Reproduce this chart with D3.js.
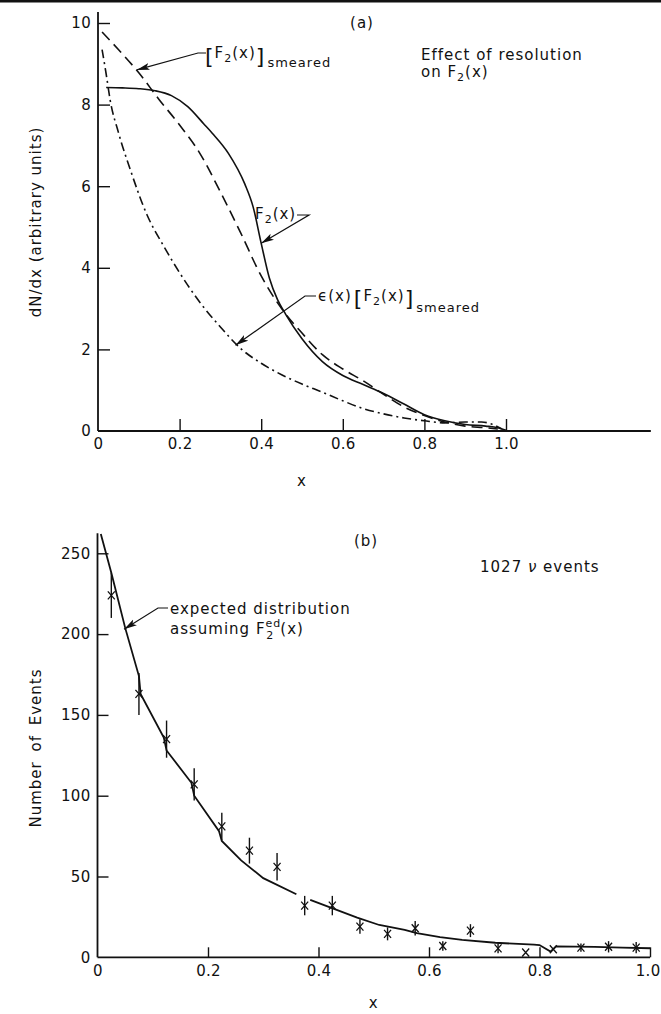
<!DOCTYPE html>
<html>
<head>
<meta charset="utf-8">
<script src="https://cdn.jsdelivr.net/npm/d3@7"></script>
<style>
  body { margin: 0; background: #fff; }
  svg text { font-family: "DejaVu Sans", sans-serif; fill: #111; letter-spacing: 1px; }
</style>
</head>
<body>
<svg id="fig" width="661" height="1014"></svg>
<script>
// ---------- panel (a): F2(x) and its smeared versions ----------
const f2X    = [0.02, 0.06, 0.10, 0.14, 0.18, 0.22, 0.26, 0.28, 0.32, 0.36, 0.38, 0.40, 0.42, 0.44, 0.46, 0.50, 0.55, 0.60, 0.65, 0.70, 0.75, 0.80, 0.85, 0.90, 0.95, 0.98, 1.00];
const f2Y    = [8.42, 8.41, 8.39, 8.34, 8.22, 7.95, 7.52, 7.30, 6.80, 6.05, 5.50, 4.60, 3.75, 3.22, 2.86, 2.26, 1.70, 1.36, 1.14, 0.92, 0.66, 0.40, 0.25, 0.16, 0.12, 0.08, 0.02];

const smearX = [0.01, 0.05, 0.10, 0.15, 0.20, 0.25, 0.30, 0.35, 0.40, 0.45, 0.50, 0.55, 0.60, 0.65, 0.70, 0.75, 0.80, 0.85, 0.90, 0.95, 0.98];
const smearY = [9.78, 9.35, 8.78, 8.12, 7.50, 6.80, 5.86, 4.85, 3.80, 3.00, 2.40, 1.87, 1.52, 1.23, 0.90, 0.59, 0.38, 0.22, 0.12, 0.08, 0.05];

const effX   = [0.01, 0.02, 0.03, 0.05, 0.08, 0.12, 0.16, 0.20, 0.25, 0.30, 0.35, 0.40, 0.45, 0.50, 0.55, 0.60, 0.65, 0.70, 0.75, 0.80, 0.85, 0.90, 0.94, 0.97, 0.99];
const effY   = [9.35, 8.75, 8.10, 7.32, 6.38, 5.30, 4.55, 3.88, 3.15, 2.55, 2.02, 1.66, 1.38, 1.15, 0.95, 0.74, 0.55, 0.42, 0.32, 0.25, 0.20, 0.22, 0.22, 0.15, 0.05];

const aTicksX      = [0, 0.2, 0.4, 0.6, 0.8, 1.0];
const aTickLabelsX = ["0", "0.2", "0.4", "0.6", "0.8", "1.0"];
const aTicksY      = [0, 2, 4, 6, 8, 10];

// ---------- panel (b): event counts per x bin ----------
const binX   = [0.025, 0.075, 0.125, 0.175, 0.225, 0.275, 0.325, 0.375, 0.425, 0.475, 0.525, 0.575, 0.625, 0.675, 0.725, 0.775, 0.825, 0.875, 0.925, 0.975];
const counts = [224, 163, 135, 107, 81, 66, 56, 32, 32, 19, 14.5, 18, 7, 16.5, 5.5, 3, 5, 6, 6.5, 6];
const errs   = [14, 13, 11.5, 10, 8.5, 8, 8.5, 6, 6, 4.5, 4, 4.5, 3, 4, 3, 0, 0, 2.5, 3.5, 3.5];

// expected distribution (short breaks at the bin boundaries)
const expX = [0.006, 0.025, 0.05, 0.075, 0.078, 0.12, 0.125, 0.17, 0.175, 0.22, 0.225, 0.26, 0.30, 0.36, null, 0.385, 0.47, 0.51, 0.556, 0.578, 0.62, 0.66, 0.72, 0.79, 0.80, 0.82, 0.83, 0.90, 0.95, 1.0];
const expY = [262, 238, 204, 174, 163, 136, 128, 108, 100, 78, 72, 60, 49, 39, null, 35.5, 24.5, 20, 17, 15, 12.5, 10.8, 9, 7.8, 7.6, 3.5, 6.8, 6.4, 6.0, 5.6];

const bTicksX      = [0, 0.2, 0.4, 0.6, 0.8, 1.0];
const bTickLabelsX = ["0", "0.2", "0.4", "0.6", "0.8", "1.0"];
const bTicksY      = [0, 50, 100, 150, 200, 250];

// ---------- drawing ----------
const svg = d3.select("#fig");
const ink = "#111";

// rule across the top of the page
svg.append("rect").attr("x", 0).attr("y", 0).attr("width", 661).attr("height", 2.5).attr("fill", ink);

// arrowhead
svg.append("defs").append("marker")
  .attr("id", "arrow").attr("markerUnits", "userSpaceOnUse")
  .attr("markerWidth", 14).attr("markerHeight", 8)
  .attr("refX", 13).attr("refY", 3.5).attr("orient", "auto")
  .append("path").attr("d", "M0,0 L13,3.5 L0,7 L3,3.5 Z").attr("fill", ink);

function styleAxis(g) {
  g.attr("font-size", null).attr("font-family", null);
  g.selectAll(".tick line").attr("stroke", ink).attr("stroke-width", 1.4);
  g.selectAll(".tick text").attr("font-size", 15).attr("fill", ink).style("letter-spacing", "0.3px");
  g.select(".domain").remove();
}

function richText(parent, x, y, parts, attrs) {
  const t = parent.append("text").attr("x", x).attr("y", y);
  if (attrs) Object.entries(attrs).forEach(([k, v]) => t.attr(k, v));
  parts.forEach(p => {
    const s = t.append("tspan").text(p.t).attr("font-size", p.size || 15);
    if (p.dy) s.attr("dy", p.dy);
    if (p.dx) s.attr("dx", p.dx);
    if (p.style) s.attr("font-style", p.style);
  });
  return t;
}

function leader(points) {
  svg.append("path")
    .attr("d", d3.line()(points))
    .attr("fill", "none").attr("stroke", ink).attr("stroke-width", 1.2)
    .attr("marker-end", "url(#arrow)");
}

// ===== panel (a) =====
const xa = d3.scaleLinear().domain([0, 1]).range([98, 506]);
const ya = d3.scaleLinear().domain([0, 10]).range([431, 23]);

const gaX = svg.append("g").attr("transform", `translate(0,${ya(0)})`)
  .call(d3.axisBottom(xa).tickValues(aTicksX).tickFormat((d, i) => aTickLabelsX[i])
    .tickSizeInner(-12).tickSizeOuter(0).tickPadding(7));
styleAxis(gaX);
gaX.selectAll(".tick").filter(d => d === 0).select("line").remove();
const gaY = svg.append("g").attr("transform", `translate(${xa(0)},0)`)
  .call(d3.axisLeft(ya).tickValues(aTicksY).tickSizeInner(-12).tickSizeOuter(0).tickPadding(7));
styleAxis(gaY);
gaY.selectAll(".tick").filter(d => d === 0).select("line").remove();

svg.append("line").attr("x1", xa(0)).attr("x2", xa(1.355)).attr("y1", ya(0)).attr("y2", ya(0))
  .attr("stroke", ink).attr("stroke-width", 1.8);
svg.append("line").attr("x1", xa(0)).attr("x2", xa(0)).attr("y1", ya(0)).attr("y2", ya(10.27))
  .attr("stroke", ink).attr("stroke-width", 1.8);

const lineA = d3.line().x(d => xa(d[0])).y(d => ya(d[1])).curve(d3.curveMonotoneX);
function curveA(xs, ys, dash) {
  svg.append("path").datum(xs.map((x, i) => [x, ys[i]]))
    .attr("d", lineA).attr("fill", "none").attr("stroke", ink).attr("stroke-width", 1.6)
    .attr("stroke-dasharray", dash);
}
curveA(f2X, f2Y, null);
curveA(smearX, smearY, "11,6");
curveA(effX, effY, "9,4,2,4");

// panel (a) labels
svg.append("text").attr("x", 362).attr("y", 28).attr("text-anchor", "middle").attr("font-size", 15).text("(a)");
svg.append("text").attr("x", 421).attr("y", 60).attr("font-size", 15).text("Effect of resolution");
richText(svg, 421, 77, [{ t: "on F" }, { t: "2", size: 11, dy: 4 }, { t: "(x)", dy: -4 }]);

richText(svg, 205, 64, [
  { t: "[", size: 22 }, { t: "F", dy: -6 }, { t: "2", size: 11, dy: 4 }, { t: "(x)", dy: -4 },
  { t: "]", size: 22, dy: 6 }, { t: "smeared", size: 13, dy: 3, dx: 2 }]);
leader([[206, 53], [198, 53], [xa(0.095), ya(8.85)]]);

richText(svg, 255, 219, [{ t: "F" }, { t: "2", size: 11, dy: 4 }, { t: "(x)", dy: -4 }]);
leader([[297, 215], [309, 215], [xa(0.40), ya(4.6)]]);

richText(svg, 318, 301, [
  { t: "\u03F5(x)" }, { t: "[", size: 22, dy: 5, dx: 2 }, { t: "F", dy: -5 }, { t: "2", size: 11, dy: 4 },
  { t: "(x)", dy: -4 }, { t: "]", size: 22, dy: 5 }, { t: "smeared", size: 13, dy: 6, dx: 2 }]);
leader([[316, 296], [305, 296], [xa(0.337), ya(2.1)]]);

svg.append("text").attr("x", xa(0.5)).attr("y", 486).attr("text-anchor", "middle").attr("font-size", 15).text("x");
svg.append("text").attr("transform", "translate(41,222) rotate(-90)").attr("text-anchor", "middle")
  .attr("font-size", 15).text("dN/dx (arbitrary units)");

// ===== panel (b) =====
const xb = d3.scaleLinear().domain([0, 1]).range([97.5, 650]);
const yb = d3.scaleLinear().domain([0, 250]).range([957.3, 553.3]);

const gbX = svg.append("g").attr("transform", `translate(0,${yb(0)})`)
  .call(d3.axisBottom(xb).tickValues(bTicksX).tickFormat((d, i) => bTickLabelsX[i])
    .tickSizeInner(-10).tickSizeOuter(0).tickPadding(8));
styleAxis(gbX);
gbX.selectAll(".tick").filter(d => d === 0).select("line").remove();
// keep the last label inside the page edge
gbX.selectAll(".tick").filter(d => d === 1).select("text").attr("text-anchor", "end").attr("dx", 10);
const gbY = svg.append("g").attr("transform", `translate(${xb(0)},0)`)
  .call(d3.axisLeft(yb).tickValues(bTicksY).tickSizeInner(-11).tickSizeOuter(0).tickPadding(7));
styleAxis(gbY);
gbY.selectAll(".tick").filter(d => d === 0).select("line").remove();

svg.append("line").attr("x1", xb(0)).attr("x2", xb(1)).attr("y1", yb(0)).attr("y2", yb(0))
  .attr("stroke", ink).attr("stroke-width", 1.8);
svg.append("line").attr("x1", xb(0)).attr("x2", xb(0)).attr("y1", yb(0)).attr("y2", yb(262.4))
  .attr("stroke", ink).attr("stroke-width", 1.8);

// expected distribution
const expPts = expX.map((x, i) => [x, expY[i]]);
svg.append("path").datum(expPts)
  .attr("d", d3.line().defined(d => d[0] !== null).x(d => xb(d[0])).y(d => yb(d[1])))
  .attr("fill", "none").attr("stroke", ink).attr("stroke-width", 1.8);

// measured points: error bars and x markers
const pts = svg.append("g").selectAll("g").data(binX.map((x, i) => ({ x, c: counts[i], e: errs[i] })))
  .join("g");
pts.filter(d => d.e > 0).append("line")
  .attr("x1", d => xb(d.x)).attr("x2", d => xb(d.x))
  .attr("y1", d => yb(d.c + d.e)).attr("y2", d => yb(d.c - d.e))
  .attr("stroke", ink).attr("stroke-width", 1.4);
pts.append("path")
  .attr("d", d => {
    const cx = xb(d.x), cy = yb(d.c);
    return `M${cx - 3.5},${cy - 4}L${cx + 3.5},${cy + 4}M${cx + 3.5},${cy - 4}L${cx - 3.5},${cy + 4}`;
  })
  .attr("stroke", ink).attr("stroke-width", 1.3).attr("fill", "none");

// panel (b) labels
svg.append("text").attr("x", 366).attr("y", 546).attr("text-anchor", "middle").attr("font-size", 15).text("(b)");
richText(svg, 480, 572, [{ t: "1027 " }, { t: "\u03BD", style: "italic" }, { t: " events" }]);
svg.append("text").attr("x", 170).attr("y", 614).attr("font-size", 15).text("expected distribution");
richText(svg, 170, 634, [
  { t: "assuming F" }, { t: "ed", size: 11, dy: -7 }, { t: "2", size: 11, dy: 12, dx: -15 },
  { t: "(x)", dy: -5, dx: 6 }]);
leader([[168, 608], [158, 608], [xb(0.048), yb(203)]]);

svg.append("text").attr("x", xb(0.5)).attr("y", 1008).attr("text-anchor", "middle").attr("font-size", 15).text("x");
svg.append("text").attr("transform", "translate(41,748) rotate(-90)").attr("text-anchor", "middle")
  .attr("font-size", 15).attr("word-spacing", 4).text("Number of Events");
</script>
</body>
</html>
